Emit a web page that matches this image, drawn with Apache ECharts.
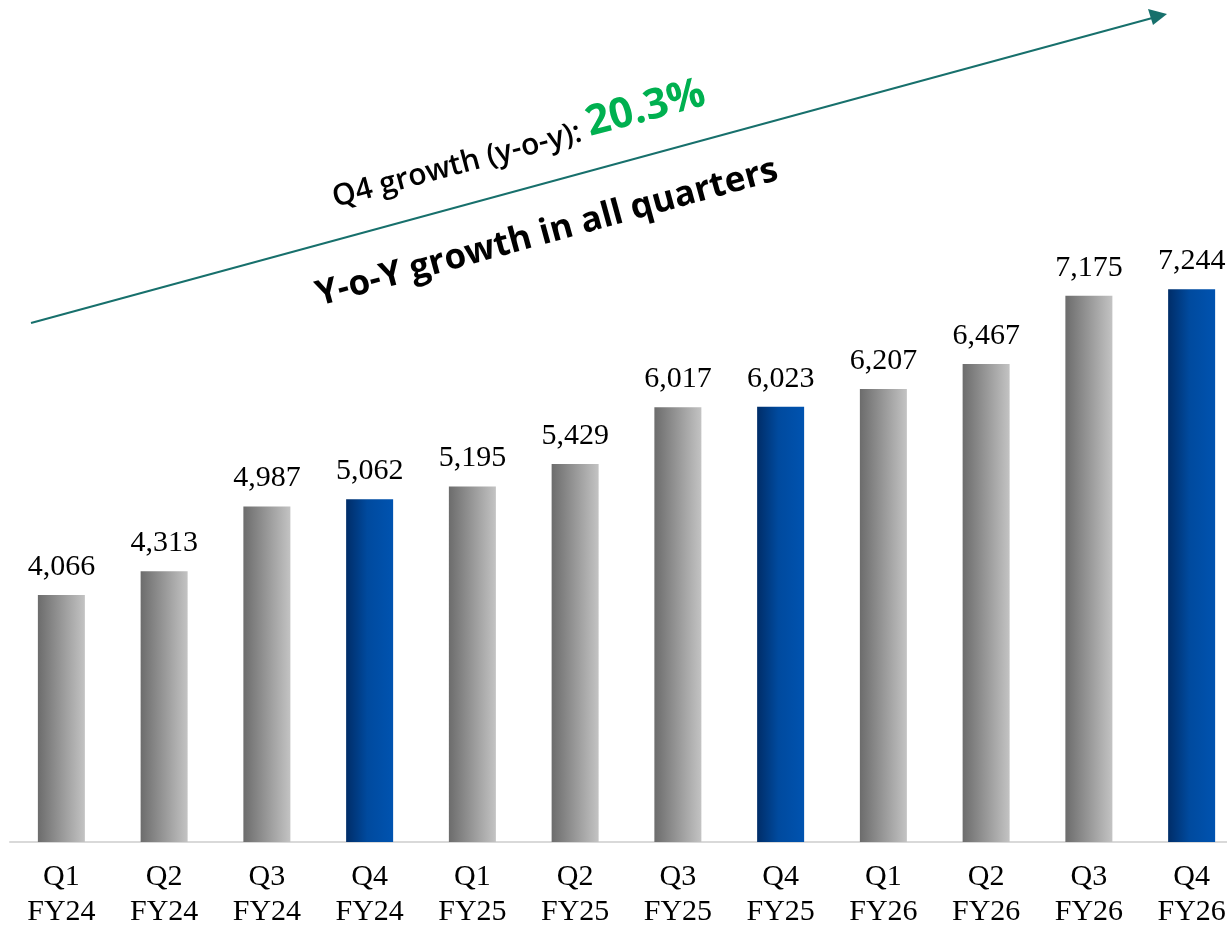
<!DOCTYPE html>
<html>
<head>
<meta charset="utf-8">
<script src="https://cdn.jsdelivr.net/npm/echarts@6/dist/echarts.min.js"></script>
<style>
html,body{margin:0;padding:0;background:#fff;overflow:hidden;width:1227px;height:930px;}
#main{width:1243px;height:930px;}
</style>
</head>
<body>
<div id="main"></div>
<script>
var quarters = ['Q1','Q2','Q3','Q4','Q1','Q2','Q3','Q4','Q1','Q2','Q3','Q4'];
var years = ['FY24','FY24','FY24','FY24','FY25','FY25','FY25','FY25','FY26','FY26','FY26','FY26'];
var values = [4066, 4313, 4987, 5062, 5195, 5429, 6017, 6023, 6207, 6467, 7175, 7244];
var categories = quarters.map(function(q, i){ return q + '\n' + years[i]; });
var growthLabel = 'Q4 growth (y-o-y): ';
var growthValue = '20.3%';
var headline = 'Y-o-Y growth in all quarters';

var chart = echarts.init(document.getElementById('main'));
var greyGrad = new echarts.graphic.LinearGradient(0,0,1,0,[
  {offset:0,color:'#6c6c6c'},{offset:1,color:'#c3c3c3'}]);
var blueGrad = new echarts.graphic.LinearGradient(0,0,1,0,[
  {offset:0,color:'#002d68'},{offset:0.45,color:'#004a9e'},{offset:1,color:'#0053b0'}]);

var seriesData = values.map(function(v, i){
  return {value: v, itemStyle: {color: quarters[i] === 'Q4' ? blueGrad : greyGrad}};
});

var teal = '#17706c';
chart.setOption({
  animation: false,
  backgroundColor: '#ffffff',
  grid: {left: 10, right: 0, top: 24, bottom: 88, containLabel: false},
  xAxis: {
    type: 'category',
    data: categories,
    axisLine: {show: true, lineStyle: {color: '#d9d9d9', width: 2}},
    axisTick: {show: false},
    axisLabel: {
      interval: 0, margin: 18,
      fontFamily: 'Liberation Serif', fontSize: 30, color: '#000',
      lineHeight: 35
    }
  },
  yAxis: {
    type: 'value', min: 1500, max: 10000,
    show: false, splitLine: {show: false}
  },
  series: [{
    type: 'bar',
    data: seriesData,
    barWidth: 47,
    label: {
      show: true, position: 'top', distance: 13,
      fontFamily: 'Liberation Serif', fontSize: 30, color: '#000', lineHeight: 30,
      formatter: function(p){ return p.value.toLocaleString('en-US'); }
    }
  }],
  graphic: [
    {type: 'line', shape: {x1: 31, y1: 323, x2: 1156, y2: 17},
     style: {stroke: teal, lineWidth: 2}},
    {type: 'polygon', shape: {points: [[1167, 14], [1148, 9], [1153, 25]]},
     style: {fill: teal}},
    {type: 'text', x: 518, y: 143, rotation: 0.262,
     style: {
       text: '{a|' + growthLabel + '}{b|' + growthValue + '}',
       align: 'center', verticalAlign: 'middle',
       rich: {
         a: {fontFamily: 'Open Sans', fontWeight: 600, fontSize: 30, fill: '#000', verticalAlign: 'bottom'},
         b: {fontFamily: 'Open Sans', fontWeight: 700, fontSize: 42, fill: '#00b050', verticalAlign: 'bottom'}
       }
     }},
    {type: 'text', x: 547, y: 233, rotation: 0.268,
     style: {
       text: headline, align: 'center', verticalAlign: 'middle',
       fontFamily: 'Open Sans', fontWeight: 700, fontSize: 35, fill: '#000'
     }}
  ]
});
</script>
</body>
</html>
